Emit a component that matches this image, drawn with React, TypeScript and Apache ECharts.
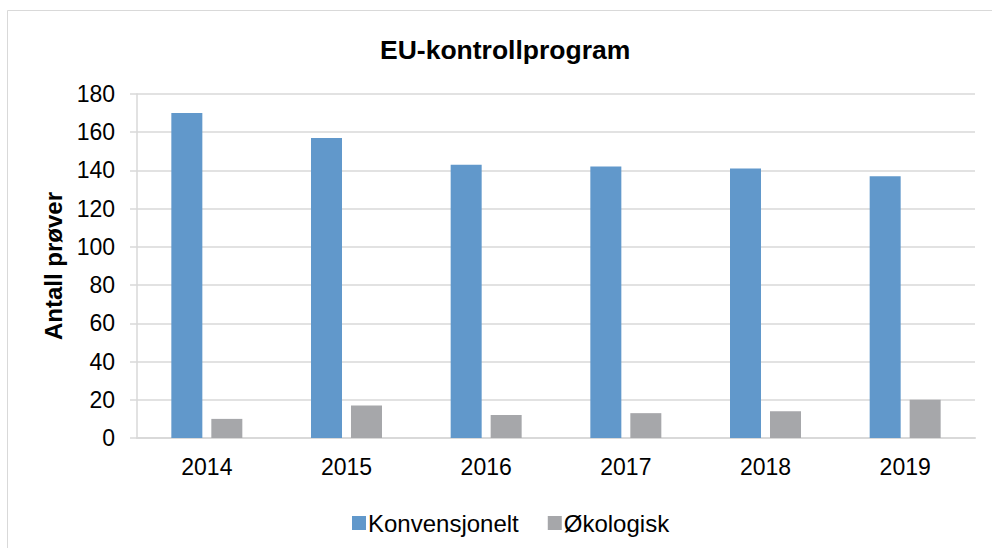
import React, { useEffect, useRef } from "react";
import * as echarts from "echarts";

const years = ["2014", "2015", "2016", "2017", "2018", "2019"];
const konvensjonelt = [170, 157, 143, 142, 141, 137];
const okologisk = [10, 17, 12, 13, 14, 20];
const seriesNames = ["Konvensjonelt", "Økologisk"];

export default function App() {
  const ref = useRef<HTMLDivElement>(null);
  useEffect(() => {
    if (!ref.current) return;
    const chart = echarts.init(ref.current, undefined, { renderer: "svg" });
    const font = "Liberation Sans, Arial, sans-serif";
    chart.setOption({
      animation: false,
      backgroundColor: "#ffffff",
      textStyle: { fontFamily: font },
      title: {
        text: "EU-kontrollprogram",
        left: 375,
        top: 31,
        textStyle: { fontFamily: font, fontSize: 26.5, fontWeight: "bold", color: "#000" },
      },
      graphic: [
        {
          type: "rect",
          shape: { x: 7.5, y: 10.5, width: 1000, height: 600 },
          style: { fill: "none", stroke: "#d9d9d9", lineWidth: 1 },
          silent: true,
        },
      ],
      legend: {
        top: 506,
        left: 347,
        itemWidth: 14,
        itemHeight: 14,
        itemGap: 29,
        icon: "rect",
        textStyle: { fontFamily: font, fontSize: 24, color: "#000", padding: [0, 0, 0, -3] },
        data: seriesNames,
      },
      grid: { left: 137, right: 17, top: 94, bottom: 110, containLabel: false },
      xAxis: {
        type: "category",
        data: years,
        axisLine: { show: true, lineStyle: { color: "#d9d9d9", width: 2 } },
        axisTick: { show: false },
        axisLabel: { fontFamily: font, fontSize: 23, color: "#000", margin: 17 },
      },
      yAxis: {
        type: "value",
        min: 0,
        max: 180,
        interval: 20,
        name: "Antall prøver",
        nameLocation: "middle",
        nameGap: 70,
        nameTextStyle: { fontFamily: font, fontSize: 24, fontWeight: "bold", color: "#000" },
        axisLine: { show: true, lineStyle: { color: "#d9d9d9", width: 1.5 } },
        axisTick: { show: true, length: 7, lineStyle: { color: "#d9d9d9", width: 1.5 } },
        axisLabel: { fontFamily: font, fontSize: 23, color: "#000", margin: 22 },
        splitLine: { lineStyle: { color: "#d9d9d9", width: 1.5 } },
      },
      series: [
        {
          name: seriesNames[0],
          type: "bar",
          data: konvensjonelt,
          barWidth: 31,
          barGap: "29%",
          itemStyle: { color: "#6198cb" },
        },
        {
          name: seriesNames[1],
          type: "bar",
          data: okologisk,
          barWidth: 31,
          itemStyle: { color: "#a6a7aa" },
        },
      ],
    });
    return () => chart.dispose();
  }, []);
  return (
    <div
      ref={ref}
      style={{ position: "fixed", left: 0, top: 0, width: 992, height: 548 }}
    />
  );
}
